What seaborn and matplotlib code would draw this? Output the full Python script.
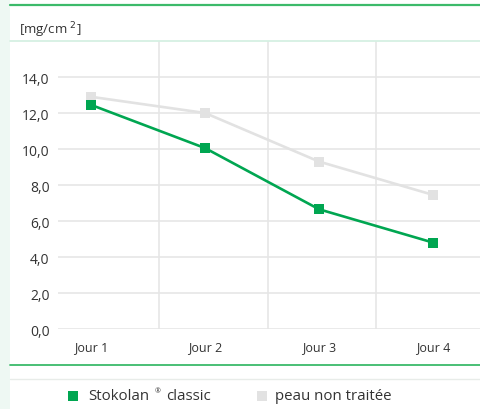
import matplotlib
matplotlib.use("Agg")
import matplotlib.pyplot as plt
import seaborn as sns
import pandas as pd
from matplotlib.lines import Line2D
from matplotlib.patches import Rectangle

days = ["Jour 1", "Jour 2", "Jour 3", "Jour 4"]
stokolan = [12.45, 10.05, 6.65, 4.8]
untreated = [12.9, 12.0, 9.3, 7.45]
series_names = ["Stokolan® classic", "peau non traitée"]
yticks = [0, 2, 4, 6, 8, 10, 12, 14]

GREEN = "#00a651"
GREY = "#e2e2e2"
TXT = "#333333"

df = pd.DataFrame({
    "day": days * 2,
    "x": list(range(len(days))) * 2,
    "value": stokolan + untreated,
    "series": [series_names[0]] * len(days) + [series_names[1]] * len(days),
})

sns.set_theme(style="white")
plt.rcParams["font.family"] = ["Open Sans", "DejaVu Sans"]

fig = plt.figure(figsize=(4.81, 4.10), dpi=100)
ax = fig.add_axes([58 / 481, 1 - 330 / 410, 1 - 58 / 481, (330 - 42) / 410])

sns.lineplot(data=df[df.series == series_names[1]], x="x", y="value", ax=ax,
             color=GREY, marker="s", markersize=7.5, markeredgewidth=0,
             linewidth=1.9, legend=False, zorder=3)
sns.lineplot(data=df[df.series == series_names[0]], x="x", y="value", ax=ax,
             color=GREEN, marker="s", markersize=7.5, markeredgewidth=0,
             linewidth=1.9, legend=False, zorder=4)

ax.set_xlim(-0.29, 3.42)
ax.set_ylim(0, 16)
ax.set_yticks(yticks)
ax.set_yticklabels([f"{v:.1f}".replace(".", ",") for v in yticks], fontsize=10, color=TXT)
ax.set_xticks(range(len(days)))
ax.set_xticklabels(days, fontsize=9, color=TXT)
ax.tick_params(axis="x", length=0, pad=8)
ax.tick_params(axis="y", length=0, pad=6)
ax.set_xlabel("")
ax.set_ylabel("")
for s in ax.spines.values():
    s.set_visible(False)
for v in yticks:
    ax.axhline(v, color="#e6e6e6", linewidth=1.2, zorder=1)
for xv in [0.6, 1.55, 2.5]:
    ax.plot([xv, xv], [0, 16], color="#e6e6e6", linewidth=1.2, zorder=1)

# decorative frame elements
fig.patches.append(Rectangle((0, 0), 10 / 481, 1, transform=fig.transFigure,
                             facecolor="#eef8f3", edgecolor="none", zorder=0))
fig.add_artist(Line2D([10 / 481, 1], [1 - 6 / 410] * 2, color="#3cba6a", linewidth=1.6))
fig.add_artist(Line2D([10 / 481, 1], [1 - 42 / 410] * 2, color="#d6f0e3", linewidth=1.3))
fig.add_artist(Line2D([10 / 481, 1], [1 - 366 / 410] * 2, color="#3cba6a", linewidth=1.3))
fig.add_artist(Line2D([10 / 481, 1], [1 - 380 / 410] * 2, color="#e8ece9", linewidth=1.0))

fig.text(19 / 481, 1 - 30 / 410, "[mg/cm $^{2}$]", fontsize=9.5, color=TXT, va="center")

# legend
ly = 1 - 397 / 410
fig.patches.append(Rectangle((68 / 481, ly - 5 / 410), 10 / 481, 10 / 410,
                             transform=fig.transFigure, facecolor=GREEN, edgecolor="none"))
fig.text(88 / 481, ly, "Stokolan", fontsize=10.8, color=TXT, va="center")
fig.text(155 / 481, ly + 5 / 410, "®", fontsize=5, color=TXT, va="center")
fig.text(166 / 481, ly, "classic", fontsize=10.8, color=TXT, va="center")
fig.patches.append(Rectangle((257 / 481, ly - 5 / 410), 10 / 481, 10 / 410,
                             transform=fig.transFigure, facecolor=GREY, edgecolor="none"))
fig.text(275 / 481, ly, series_names[1], fontsize=10.8, color=TXT, va="center")

fig.savefig("out.png", dpi=100)
